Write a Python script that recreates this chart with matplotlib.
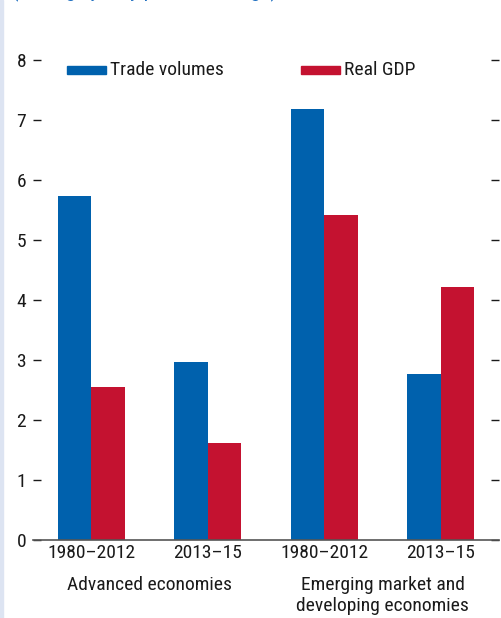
import numpy as np
import matplotlib
matplotlib.use("Agg")
import matplotlib.pyplot as plt
from matplotlib.patches import Rectangle
from matplotlib import font_manager

BLUE, RED, INK = "#0061ad", "#c41230", "#1a1a1a"
have = {f.name for f in font_manager.fontManager.ttflist}
narrow = [f for f in ["Liberation Sans Narrow", "Roboto Condensed", "Open Sans Condensed",
                      "Liberation Sans"] if f in have]
plt.rcParams["font.family"] = narrow[:1] + ["DejaVu Sans"]
FS = 14

periods = ["1980–2012", "2013–15", "1980–2012", "2013–15"]
groups = ["Advanced economies", "Emerging market and\ndeveloping economies"]
trade = [5.73, 2.97, 7.18, 2.77]
gdp = [2.55, 1.61, 5.42, 4.22]
yticks = list(range(0, 9))

fig = plt.figure(figsize=(5.02, 6.18), dpi=100)
W, H = 502, 618
ax = fig.add_axes([33 / W, 1 - 540 / H, 466 / W, 480 / H])

x = np.arange(len(periods))
w = 0.288
ax.bar(x - w / 2, trade, w, color=BLUE, label="Trade volumes", zorder=2)
ax.bar(x + w / 2, gdp, w, color=RED, label="Real GDP", zorder=2)

ax.set_xlim(-0.5, 3.5)
ax.set_ylim(0, 8)
for s in ["top", "left", "right"]:
    ax.spines[s].set_visible(False)
ax.spines["bottom"].set_color("#555555")
ax.spines["bottom"].set_linewidth(1.2)
ax.spines["bottom"].set_zorder(3)
ax.set_yticks(yticks)
ax.tick_params(axis="y", direction="in", length=6, width=1, color=INK,
               labelsize=FS, labelcolor=INK, right=True, pad=5)
ax.set_xticks(x, periods)
ax.tick_params(axis="x", length=0, labelsize=FS, labelcolor=INK, pad=3)

for gx, lab in zip([0.5, 2.5], groups):
    ax.text(gx, -0.076, lab, transform=ax.get_xaxis_transform(),
            ha="center", va="top", fontsize=FS, color=INK, linespacing=1.2)

# legend drawn by hand: wide flat swatches
for (lab, c, x0) in [("Trade volumes", BLUE, 67), ("Real GDP", RED, 301)]:
    fig.patches.append(Rectangle((x0 / W, 1 - 74 / H), 39 / W, 8 / H,
                                 transform=fig.transFigure, color=c))
    fig.text((x0 + 43) / W, 1 - 70 / H, lab, ha="left", va="center",
             fontsize=FS, color=INK)

# subtitle of the original figure, cut off by the top edge
fig.text(12 / W, 1 + 3 / H, "(Average yearly percent change)", ha="left",
         va="baseline", fontsize=15, color="#1f6fc0")

# light strip on the left edge
fig.patches.append(Rectangle((0, 0), 3 / W, 1, transform=fig.transFigure,
                             color="#dde4f2"))

fig.savefig("out.png", dpi=100)
